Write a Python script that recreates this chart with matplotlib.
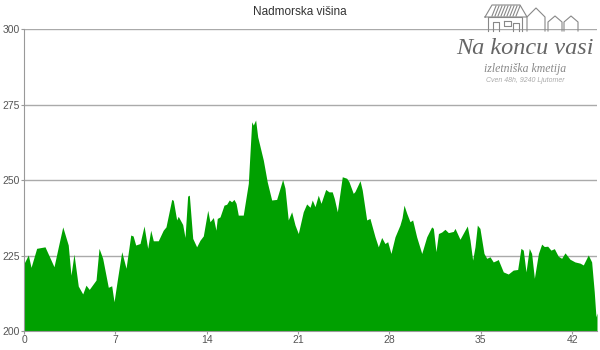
import matplotlib
matplotlib.use("Agg")
from matplotlib import pyplot as plt
from matplotlib.lines import Line2D

# distance along the route (km) and elevation (m)
km = [0.00, 0.33, 0.54, 0.97, 1.61, 2.30, 2.63, 2.97, 3.39, 3.60, 3.83, 4.16, 4.50, 4.75,
      5.00, 5.52, 5.75, 6.03, 6.46, 6.72, 6.90, 7.15, 7.49, 7.82, 8.18, 8.36, 8.56, 8.89,
      9.20, 9.48, 9.71, 9.91, 10.29, 10.67, 10.88, 11.32, 11.44, 11.70, 11.82, 12.16,
      12.34, 12.54, 12.67, 12.93, 13.23, 13.49, 13.74, 14.08, 14.25, 14.51, 14.71, 14.81,
      15.02, 15.33, 15.53, 15.73, 15.91, 16.09, 16.25, 16.42, 16.80, 17.19, 17.45, 17.57,
      17.75, 17.91, 18.34, 18.64, 18.98, 19.36, 19.82, 20.00, 20.25, 20.51, 20.77, 21.02,
      21.40, 21.66, 21.92, 22.09, 22.30, 22.55, 22.76, 23.12, 23.37, 23.62, 23.78, 24.01,
      24.39, 24.73, 24.90, 25.23, 25.36, 25.75, 25.92, 26.26, 26.51, 26.90, 27.15, 27.41,
      27.66, 27.87, 28.12, 28.43, 28.81, 28.97, 29.12, 29.33, 29.58, 29.78, 30.09, 30.48,
      30.86, 31.24, 31.37, 31.57, 31.76, 32.01, 32.26, 32.52, 32.90, 33.03, 33.41, 33.79,
      33.97, 34.18, 34.38, 34.56, 34.74, 34.94, 35.25, 35.46, 35.71, 35.96, 36.22, 36.34,
      36.73, 37.11, 37.49, 37.83, 38.08, 38.26, 38.47, 38.72, 38.90, 39.11, 39.42, 39.67,
      39.87, 40.13, 40.38, 40.64, 40.94, 41.20, 41.46, 41.84, 42.22, 42.61, 42.86, 43.24,
      43.50, 43.70, 43.83, 43.91]
elev = [222.4, 225.2, 221.1, 227.4, 227.9, 221.3, 227.9, 234.5, 228.5, 218.5, 225.5, 214.9,
        212.3, 215.2, 213.8, 216.9, 227.4, 224.1, 214.5, 215.0, 209.7, 216.9, 226.3, 220.8,
        231.8, 231.5, 228.5, 229.0, 234.8, 227.4, 233.4, 229.9, 229.9, 233.4, 234.5, 243.6,
        243.3, 236.8, 238.0, 235.3, 231.0, 244.7, 245.0, 230.7, 227.9, 230.1, 231.5, 240.0,
        236.2, 237.6, 233.4, 237.3, 237.8, 241.7, 242.0, 243.4, 242.8, 243.6, 242.3, 238.4,
        238.4, 248.9, 269.3, 268.2, 269.9, 264.3, 256.6, 249.4, 243.4, 243.6, 250.2, 247.3,
        236.8, 239.5, 235.1, 232.3, 239.5, 242.1, 241.0, 243.4, 241.2, 245.0, 242.3, 246.9,
        246.1, 246.1, 243.9, 239.5, 251.1, 250.6, 249.5, 245.6, 246.2, 249.8, 246.7, 236.8,
        237.3, 231.2, 227.9, 231.0, 229.0, 229.6, 225.7, 231.2, 235.1, 237.5, 241.7, 239.0,
        236.2, 236.8, 231.2, 225.7, 231.2, 234.5, 234.0, 226.3, 232.3, 232.8, 233.7, 232.6,
        233.0, 234.0, 230.4, 233.4, 234.8, 230.1, 223.5, 227.9, 235.1, 234.0, 225.7, 224.1,
        224.6, 222.9, 223.4, 223.7, 219.6, 218.9, 220.2, 220.4, 227.4, 226.8, 219.6, 227.4,
        225.7, 217.5, 225.7, 228.8, 228.0, 228.1, 226.8, 227.3, 224.8, 224.1, 225.9, 223.8,
        222.9, 222.5, 221.9, 225.2, 222.9, 213.0, 204.7, 206.0]

xticks = [0, 7, 14, 21, 28, 35, 42]
yticks = [200, 225, 250, 275, 300]

fig = plt.figure(figsize=(6, 3.5), dpi=100)
ax = fig.add_axes([0.04, 0.054, 0.955, 0.863])

#   Elevation area
ax.fill_between(km, 200, elev, color='#00a000', lw=0, zorder=2)

ax.set_xlim(0, 43.91)
ax.set_ylim(200, 300)
ax.set_xticks(xticks)
ax.set_yticks(yticks)
ax.yaxis.grid(True, color='#aaaaaa', lw=1)
ax.set_axisbelow(True)
ax.tick_params(labelsize=7.5, colors='#999999', labelcolor='#555555', length=2, pad=1)
for s in ['top', 'right']:
    ax.spines[s].set_visible(False)
for s in ['left', 'bottom']:
    ax.spines[s].set_color('#999999')
for lab in ax.get_xticklabels() + ax.get_yticklabels():
    lab.set_family('Liberation Sans')

fig.text(0.5, 0.965, 'Nadmorska višina', ha='center', va='center',
         fontsize=8.5, color='#333333', family='Liberation Sans')

#   Logo in top right corner (houses + text)
gray = '#888888'
def house(pts):
    xs = [p[0] / 600 for p in pts]
    ys = [1 - p[1] / 350 for p in pts]
    fig.add_artist(Line2D(xs, ys, color=gray, lw=0.8))

house([(485, 17), (492, 5), (520, 5), (527, 17), (485, 17)])
for rx in range(496, 522, 3):
    house([(rx, 6), (rx - 4, 16)])
house([(488, 31), (488, 17), (522, 17), (522, 31)])
house([(527, 31), (527, 17), (536, 8), (545, 17), (545, 31)])
house([(548, 31), (548, 22), (555, 16), (562, 22), (562, 31)])
house([(564, 31), (564, 22), (571, 16), (578, 22), (578, 31)])
house([(493, 31), (493, 22), (499, 22), (499, 31)])
house([(504, 21), (511, 21), (511, 26), (504, 26), (504, 21)])
house([(513, 31), (513, 23), (519, 23), (519, 31)])

fig.text(525 / 600, 1 - 48 / 350, 'Na koncu vasi', ha='center', va='center',
         fontsize=17.5, style='italic', color='#666666', family='Liberation Serif')
fig.text(525 / 600, 1 - 69 / 350, 'izletniška kmetija', ha='center', va='center',
         fontsize=8.5, style='italic', color='#888888', family='Liberation Serif')
fig.text(525 / 600, 1 - 81 / 350, 'Cven 48h, 9240 Ljutomer', ha='center', va='center',
         fontsize=5, style='italic', color='#aaaaaa', family='Liberation Sans')

plt.savefig('out.png', dpi=100)
